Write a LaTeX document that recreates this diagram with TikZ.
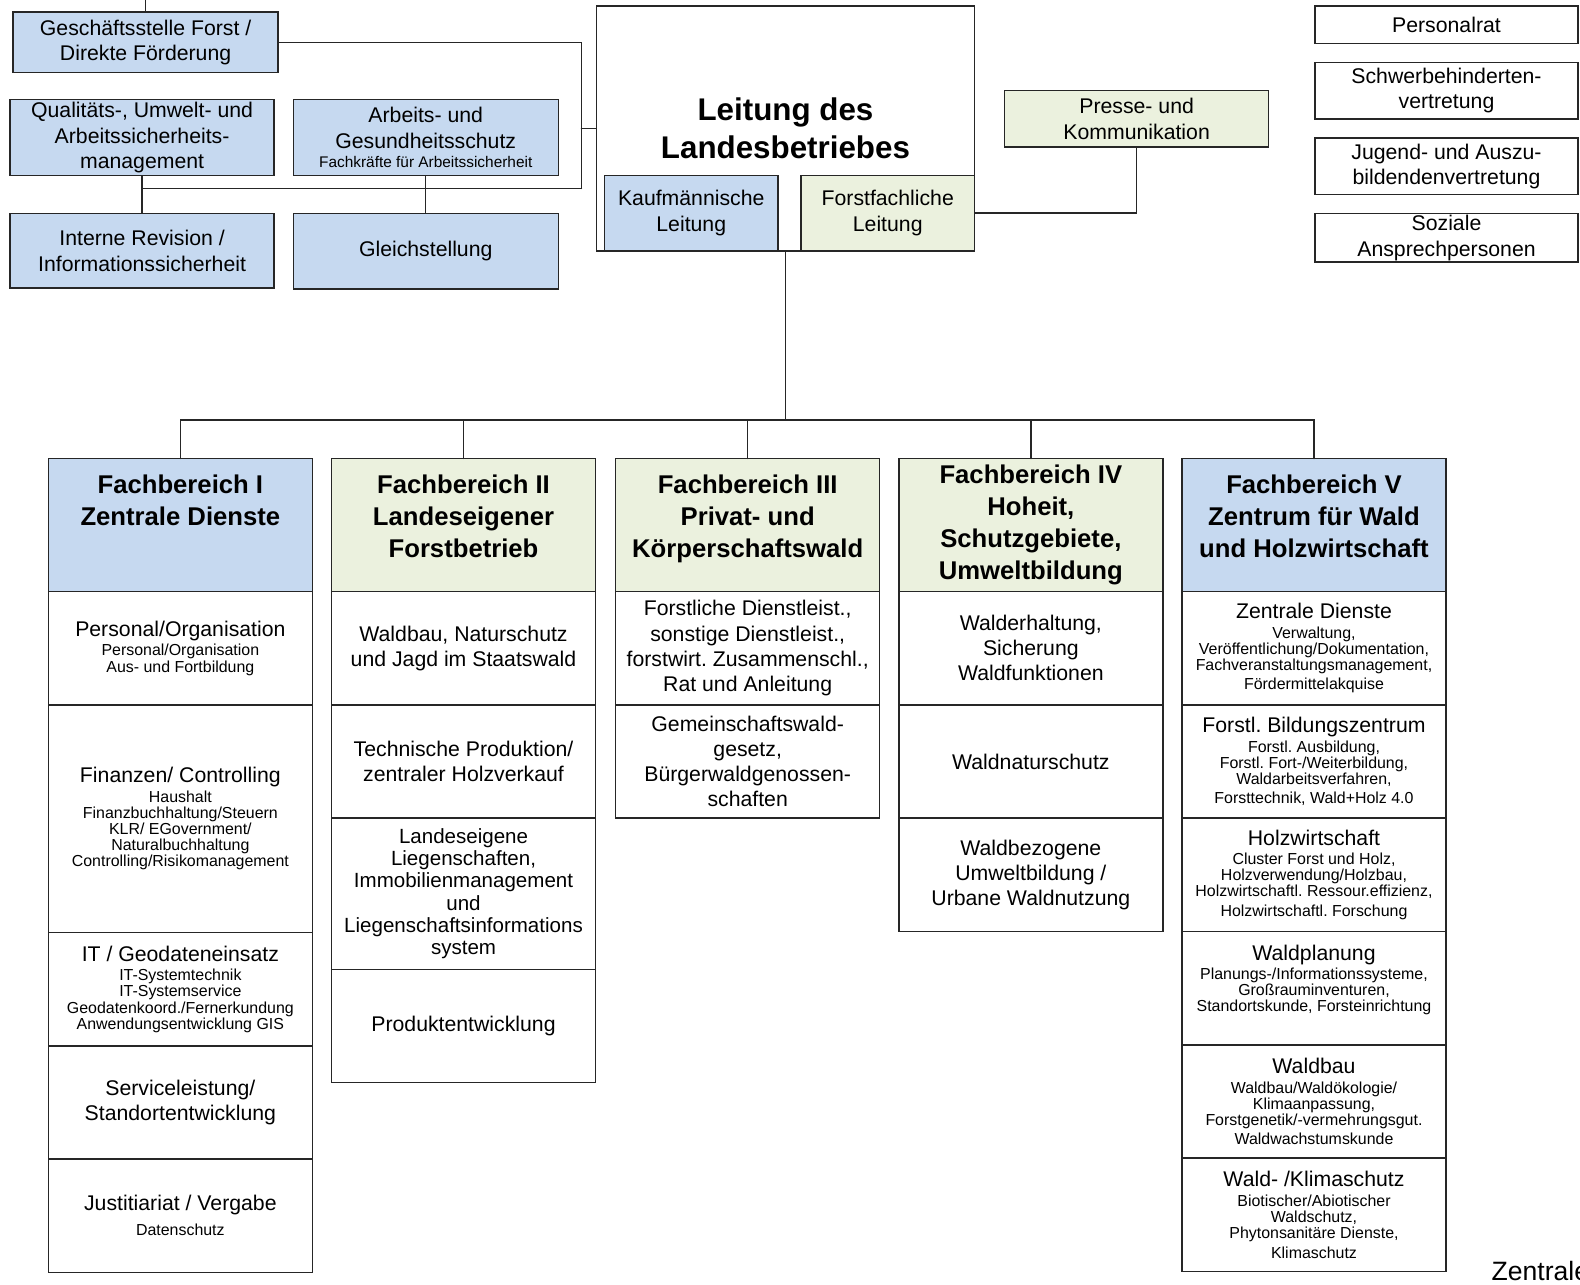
\documentclass[tikz,border=0pt]{standalone}
\usepackage{fontspec}
\setmainfont{Liberation Sans}
\usetikzlibrary{positioning}

\newcommand{\unter}[2][2pt]{\par\vspace{#1}{\fontsize{9}{9.1}\selectfont #2\par}}
\newcommand{\fbtitel}[1]{\parbox[c][2cm][t]{5.1cm}{\centering #1}}

\begin{document}
\frenchspacing
\begin{tikzpicture}
			[x=0.02cm,y=-0.02cm,line cap=round,
			%Styles
			stab/.style={draw=black!85,line width=0.8pt,fill=hblau,minimum width=5.26cm,text width=5.1cm,align=flush center,inner sep=0pt,font=\fontsize{12}{14.4}\selectfont},
			rat/.style={draw=black!85,line width=0.8pt,fill=white,minimum width=5.22cm,text width=5cm,align=flush center,inner sep=0pt,font=\fontsize{12}{14.4}\selectfont},
			head/.style={draw=black!85,line width=0.8pt,minimum width=5.24cm,minimum height=2.64cm,anchor=north,align=center,inner sep=0pt,outer sep=0pt,font=\bfseries\fontsize{14.5}{18.1}\selectfont},
			sub/.style={draw=black!85,line width=0.8pt,fill=white,minimum width=5.24cm,minimum height=2.25cm,text width=5.1cm,align=flush center,inner sep=0pt,outer sep=0pt,font=\fontsize{12}{14.2}\selectfont},
			con/.style={draw=black!85,line width=0.8pt}
			]
			
			%Colors
			\definecolor{hblau}{RGB}{198,217,240}
			\definecolor{hgruen}{RGB}{235,241,222}
			
			\useasboundingbox (0,0) rectangle (1568,1275);
			
			%Stabsstellen
			\node[stab,minimum height=1.2cm] (gs) at (144.5,42) {Geschäftsstelle Forst /\\Direkte Förderung};
			\node[stab,minimum width=5.24cm,minimum height=1.5cm] (qum) at (141,136.5) {Qualitäts-, Umwelt- und\\Arbeitssicherheits-\\management};
			\node[stab,minimum height=1.5cm] (ags) at (422.5,136.5) {Arbeits- und\\Gesundheitsschutz\par{\fontsize{8.7}{11}\selectfont Fachkräfte für Arbeitssicherheit\par}};
			\node[stab,minimum width=5.24cm,minimum height=1.48cm] (rev) at (141,249) {Interne Revision /\\Informationssicherheit};
			\node[stab,minimum height=1.5cm] (gleich) at (422.5,249.5) {Gleichstellung};
			\coordinate (top) at (144.5,0);
			\coordinate (knick) at (577,187);
			
			%Leitung
			\node[draw=black!85,line width=0.8pt,fill=white,minimum width=7.5cm,minimum height=4.86cm,align=center,font=\bfseries\fontsize{17.7}{21.5}\selectfont] (leitung) at (779.5,127.5) {Leitung des\\Landesbetriebes};
			\node[stab,minimum width=3.44cm,text width=3.3cm,minimum height=1.5cm] (kfm) at (686,211.5) {Kaufmännische\\Leitung};
			\node[stab,fill=hgruen,minimum width=3.44cm,text width=3.3cm,minimum height=1.5cm] (ffl) at (881,211.5) {Forstfachliche\\Leitung};
			\node[stab,fill=hgruen,minimum width=5.24cm,minimum height=1.12cm] (presse) at (1128,118) {Presse- und\\Kommunikation};
			
			%Vertretungen
			\node[rat,minimum height=0.74cm] (pr) at (1435.5,24.5) {Personalrat};
			\node[rat,minimum height=1.12cm] (swb) at (1435.5,90) {Schwerbehinderten-\\vertretung};
			\node[rat,minimum height=1.12cm] (jav) at (1435.5,165) {Jugend- und Auszu-\\bildendenvertretung};
			\node[rat,minimum height=0.96cm] (soz) at (1435.5,236) {Soziale\\Ansprechpersonen};
			
			%Fachbereich I
			\node[head,fill=hblau] (fb1) at (179,455) {\fbtitel{Fachbereich I\\Zentrale Dienste}};
			\node[sub,below=0pt of fb1] (fb1a) {Personal/Organisation\unter{Personal/Organisation\\Aus- und Fortbildung}};
			\node[sub,below=0pt of fb1a,minimum height=4.52cm] (fb1b) {Finanzen/ Controlling\unter{Haushalt\\Finanzbuchhaltung/Steuern\\KLR/ EGovernment/\\Naturalbuchhaltung\\Controlling/Risikomanagement}};
			\node[sub,below=0pt of fb1b] (fb1c) {IT / Geodateneinsatz\unter{IT-Systemtechnik\\IT-Systemservice\\Geodatenkoord./Fernerkundung\\Anwendungsentwicklung GIS}};
			\node[sub,below=0pt of fb1c] (fb1d) {Serviceleistung/\\Standortentwicklung};
			\node[sub,below=0pt of fb1d] (fb1e) {Justitiariat / Vergabe\unter[5pt]{Datenschutz}};
			
			%Fachbereich II
			\node[head,fill=hgruen] (fb2) at (460,455) {\fbtitel{Fachbereich II\\Landeseigener\\Forstbetrieb}};
			\node[sub,below=0pt of fb2] (fb2a) {Waldbau, Naturschutz\\und Jagd im Staatswald};
			\node[sub,below=0pt of fb2a] (fb2b) {Technische Produktion/\\zentraler Holzverkauf};
			\node[sub,below=0pt of fb2b,minimum height=3cm,font=\fontsize{11.6}{12.6}\selectfont] (fb2c) {Landeseigene\\Liegenschaften,\\Immobilienmanagement\\und\\Liegenschaftsinformations\\system};
			\node[sub,below=0pt of fb2c] (fb2d) {Produktentwicklung};
			
			%Fachbereich III
			\node[head,fill=hgruen] (fb3) at (742,455) {\fbtitel{Fachbereich III\\Privat- und\\Körperschaftswald}};
			\node[sub,below=0pt of fb3] (fb3a) {Forstliche Dienstleist.,\\sonstige Dienstleist.,\\forstwirt. Zusammenschl.,\\Rat und Anleitung};
			\node[sub,below=0pt of fb3a] (fb3b) {Gemeinschaftswald-\\gesetz,\\Bürgerwaldgenossen-\\schaften};
			
			%Fachbereich IV
			\node[head,fill=hgruen] (fb4) at (1023,455) {Fachbereich IV\\Hoheit,\\Schutzgebiete,\\Umweltbildung};
			\node[sub,below=0pt of fb4] (fb4a) {Walderhaltung,\\Sicherung\\Waldfunktionen};
			\node[sub,below=0pt of fb4a] (fb4b) {Waldnaturschutz};
			\node[sub,below=0pt of fb4b] (fb4c) {Waldbezogene\\Umweltbildung /\\Urbane Waldnutzung};
			
			%Fachbereich V
			\node[head,fill=hblau] (fb5) at (1304,455) {\fbtitel{Fachbereich V\\Zentrum für Wald\\und Holzwirtschaft}};
			\node[sub,below=0pt of fb5] (fb5a) {Zentrale Dienste\unter{Verwaltung,\\Veröffentlichung/Dokumentation,\\Fachveranstaltungsmanagement,\\[2pt]Fördermittelakquise}};
			\node[sub,below=0pt of fb5a] (fb5b) {Forstl. Bildungszentrum\unter{Forstl. Ausbildung,\\Forstl. Fort-/Weiterbildung,\\Waldarbeitsverfahren,\\[2pt]Forsttechnik, Wald+Holz 4.0}};
			\node[sub,below=0pt of fb5b] (fb5c) {Holzwirtschaft\unter{Cluster Forst und Holz,\\Holzverwendung/Holzbau,\\Holzwirtschaftl. Ressour.effizienz,\\[2pt]Holzwirtschaftl. Forschung}};
			\node[sub,below=0pt of fb5c] (fb5d) {Waldplanung\unter{Planungs-/Informationssysteme,\\Großrauminventuren,\\Standortskunde, Forsteinrichtung}\vspace{-3pt}\hbox{}};
			\node[sub,below=0pt of fb5d] (fb5e) {Waldbau\unter{Waldbau/Waldökologie/\\Klimaanpassung,\\Forstgenetik/-vermehrungsgut.\\[2pt]Waldwachstumskunde}};
			\node[sub,below=0pt of fb5e] (fb5f) {Wald- /Klimaschutz\unter{Biotischer/Abiotischer\\Waldschutz,\\Phytonsanitäre Dienste,\\[2pt]Klimaschutz}};
			
			\node[anchor=base west,inner sep=0pt,font=\fontsize{15}{18}\selectfont] (zentrale) at (1480,1271) {Zentrale};
			
			%Connectors
			\coordinate (bus) at (779.5,417);
			\draw[con] (gs.north) -- (top);
			\draw[con] (gs.east) -| (knick);
			\draw[con] (knick) -- (knick -| qum.south);
			\draw[con] (qum.south) -- (rev.north);
			\draw[con] (ags.south) -- (gleich.north);
			\draw[con] (leitung.west) -- (leitung.west -| knick);
			\draw[con] (ffl.east) -| (presse.south);
			\draw[con] (leitung.south) -- (bus);
			\foreach \n in {1,...,5}
				\draw[con] (fb\n.north) |- (bus);
\end{tikzpicture}
\end{document}
